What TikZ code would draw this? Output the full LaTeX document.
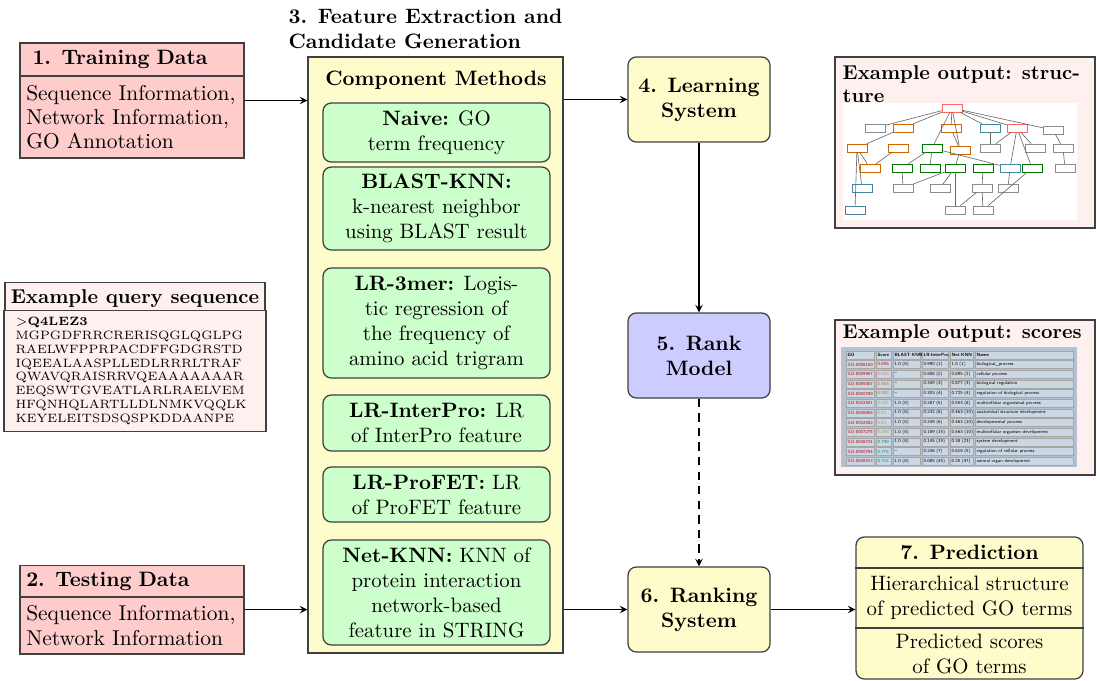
\documentclass[tikz,border=0pt]{standalone}
\usepackage{xcolor}
\usetikzlibrary{positioning, arrows.meta, fit, calc}
\definecolor{tabbg}{RGB}{178,194,210}
\definecolor{tabcell}{RGB}{204,215,228}

\begin{document}
\begin{tikzpicture}[
            x=0.48pt, y=-0.48pt,
            >=stealth,
            line width=0.6pt,
            datahead/.style={draw=black!75, fill=red!20, font=\bfseries, align=left, inner xsep=3pt, text width=101.5pt, minimum height=15.8pt},
            databody/.style={draw=black!75, fill=red!20, font=\fontsize{10.3}{11.6}\selectfont, align=left, inner xsep=3pt, inner ysep=1pt, text width=101.5pt},
            examplebox/.style={draw=black!75, fill=red!6, minimum width=124.8pt},
            method/.style={draw=black!75, fill=green!20, rounded corners=4pt, minimum width=108.96pt, align=center},
            sysbox/.style={draw=black!75, fill=yellow!20, rounded corners=4pt, minimum width=68.16pt, minimum height=40.8pt, font=\bfseries, align=center},
            gobox/.style={draw=#1, fill=white, line width=0.3pt, minimum width=9.6pt, minimum height=3.8pt, inner sep=0pt},
            goedge/.style={draw=black!60, line width=0.3pt},
            tabtext/.style={font=\fontsize{2.2}{2.6}\selectfont\sffamily, anchor=west, inner sep=0pt},
        ]
            \useasboundingbox (0,0) rectangle (1097,680);

            % Draw the data boxes
            \node[datahead, minimum height=15.84pt] (train-head) at (132,59.5) {\hspace{3pt}1. Training Data};
            \node[databody, minimum height=39.36pt] (train-body) at (132,117) {Sequence Information,\\Network Information,\\GO Annotation};
            \node[fit=(train-head)(train-body), inner sep=0pt] (train) {};

            \node[datahead, minimum height=14.88pt] (test-head) at (132,581.5) {2. Testing Data};
            \node[databody, minimum height=27.36pt] (test-body) at (132,625.5) {Sequence Information,\\Network Information};
            \node[fit=(test-head)(test-body), inner sep=0pt] (test) {};

            % Draw the query example
            \node[examplebox, minimum height=14.88pt, inner xsep=1pt, font=\fontsize{9.6}{11}\selectfont\bfseries] (query-head) at (135,298.5) {Example query sequence};
            \node[examplebox, minimum height=54.72pt, align=left, inner xsep=5.5pt, text width=114.7pt,
                  font=\fontsize{5.8}{6.6}\selectfont] (query) at (135,371)
                {$>$\textbf{Q4LEZ3}\\MGPGDFRRCRERISQGLQGLPG\\RAELWFPPRPACDFFGDGRSTD\\IQEEALAASPLLEDLRRRLTRAF\\QWAVQRAISRRVQEAAAAAAAR\\EEQSWTGVEATLARLRAELVEM\\HFQNHQLARTLLDLNMKVQQLK\\KEYELEITSDSQSPKDDAANPE};

            % Draw the component methods
            \node[anchor=north west, inner sep=0pt, align=left, font=\bfseries] (feat-title) at (288,8) {3. Feature Extraction and\\Candidate Generation};
            \node[draw=black!75, fill=yellow!20, minimum width=122.4pt, minimum height=286.08pt] (methods) at (435.5,355) {};
            \node[font=\bfseries] (comp-title) at (436,80) {Component Methods};

            \node[method, minimum height=28.32pt] (naive) at (436.5,132.5) {\textbf{Naive:} GO\\term frequency};
            \node[method, minimum height=39.84pt] (blast) at (436.5,208.5) {\textbf{BLAST-KNN:}\\k-nearest neighbor\\using BLAST result};
            \node[method, minimum height=52.8pt] (lr3mer) at (436.5,323) {\textbf{LR-3mer:} Logis-\\tic regression of\\the frequency of\\amino acid trigram};
            \node[method, minimum height=26.88pt] (interpro) at (436.5,423) {\textbf{LR-InterPro:} LR\\of InterPro feature};
            \node[method, minimum height=26.4pt] (profet) at (436.5,494.5) {\textbf{LR-ProFET:} LR\\of ProFET feature};
            \node[method, minimum height=50.4pt] (netknn) at (436.5,592.5) {\textbf{Net-KNN:} KNN of\\protein interaction\\network-based\\feature in STRING};

            % Draw the system nodes
            \node[sysbox] (learn) at (699,99.5) {4. Learning\\System};
            \node[sysbox, fill=blue!20] (rank) at (699,355.5) {5. Rank\\Model};
            \node[sysbox] (ranking) at (699,609.5) {6. Ranking\\System};

            % Draw the prediction node
            \node[draw=black!75, fill=yellow!20, rounded corners=4pt, minimum width=108.96pt, minimum height=68.16pt] (pred) at (969.5,608) {};
            \coordinate (pred-sep1) at (969.5,568);
            \coordinate (pred-sep2) at (969.5,628);
            \draw[black!75] (pred-sep1 -| pred.west) -- (pred-sep1 -| pred.east);
            \draw[black!75] (pred-sep2 -| pred.west) -- (pred-sep2 -| pred.east);
            \node[font=\bfseries] (pred-head) at (969.5,552.5) {7. Prediction};
            \node[align=center] (pred-struct) at (969.5,598) {Hierarchical structure\\of predicted GO terms};
            \node[align=center] (pred-scores) at (969.5,654) {Predicted scores\\of GO terms};

            % Draw the example outputs
            \node[examplebox, minimum height=82.08pt] (out-struct) at (965,142.5) {};
            \node[anchor=north west, inner sep=0pt, align=left, font=\fontsize{9.6}{11}\selectfont\bfseries] (out-struct-title) at (842,65) {Example output: struc-\\ture};
            \fill[white] (843,103) rectangle (1077,220);
            \foreach \name/\x/\y/\c in {r/952/108/red!60, a1/875/128/black!45, a2/903/128/orange!80!black, a3/951/128/orange!80!black,
                    a4/990/128/cyan!60!black, a5/1017/128/red!60, a6/1053/130/black!45, b1/857/148/orange!80!black,
                    b2/898/148/orange!80!black, b3/932/148/green!45!black, b4/960/150/orange!80!black, b5/990/148/black!45,
                    b6/1035/148/black!45, b7/1063/148/black!45, c1/870/168/orange!80!black, c2/902/168/green!45!black,
                    c3/930/168/green!45!black, c4/955/168/green!45!black, c5/983/168/green!45!black,
                    c6/1010/168/cyan!60!black, c7/1032/168/green!45!black, c8/1065/168/black!45,
                    d1/862/188/cyan!60!black, d2/903/188/black!45, d3/940/188/black!45, d4/982/188/black!45,
                    d5/1008/188/black!45, e1/855/210/cyan!60!black, e2/955/210/black!45, e3/983/210/black!45}
                \node[gobox=\c] (s-\name) at (\x,\y) {};
            \foreach \a/\b in {r/a1, r/a2, r/a3, r/a4, r/a5, r/a6, r/b3, r/b4, a2/b1, a3/b4, a4/b5, a5/b5,
                    a5/b6, a5/c6, a5/c7, a6/b7, b1/c1, b1/d1, b1/e1, b2/c1, b3/c2, b3/c3, b3/c6, b4/c4,
                    c4/d2, c4/d3, c4/e2, c5/d4, c6/d5, c7/e3, b7/c8, d4/e2, d4/e3, c2/d2}
                \draw[goedge] (s-\a) -- (s-\b);

            \node[examplebox, minimum height=74.4pt] (out-scores) at (965,397.5) {};
            \node[anchor=west, inner sep=0pt, font=\fontsize{9.6}{11}\selectfont\bfseries] (out-scores-title) at (842,333) {Example output: scores};
            \fill[tabbg] (841,347) rectangle (1077,467);
            \foreach \r in {0,...,11}
                \foreach \cl/\cr in {845/875, 875/892, 892/921, 921/949, 949/974, 974/1074}
                    \draw[fill=tabcell, draw=black!35, line width=0.2pt] ({\cl+0.8},{350+9.67*\r+0.8}) rectangle ({\cr-0.8},{350+9.67*\r+8.87});
            \foreach \cl/\txt [count=\k] in {847/GO, 877/Score, 894/BLAST-KNN, 923/LR-InterPro, 951/Net-KNN, 976/Name}
                \node[tabtext] (head-\k) at (\cl,354.8) {\textbf{\txt}};
            \foreach \i/\go/\sc/\scol/\bk/\lr/\nk/\nm in {
                    1/GO:0008150/0.856/red!80!black/1.0 (8)/0.990 (1)/1.0 (1)/biological\_process,
                    2/GO:0009987/0.853/red!60/--/0.808 (2)/0.895 (2)/cellular process,
                    3/GO:0065007/0.853/orange!80!black/--/0.349 (3)/0.877 (3)/biological regulation,
                    4/GO:0050789/0.852/orange!80!black/--/0.303 (4)/0.725 (4)/regulation of biological process,
                    5/GO:0032501/0.847/yellow!60!black/1.0 (8)/0.287 (5)/0.553 (8)/multicellular organismal process,
                    6/GO:0048856/0.83/yellow!60!black/1.0 (8)/0.232 (6)/0.463 (10)/anatomical structure development,
                    7/GO:0032502/0.83/yellow!60!black/1.0 (8)/0.249 (6)/0.463 (10)/developmental process,
                    8/GO:0007275/0.808/yellow!60!black/1.0 (8)/0.189 (15)/0.463 (10)/multicellular organism development,
                    9/GO:0048731/0.799/teal/1.0 (8)/0.145 (19)/0.38 (23)/system development,
                    10/GO:0050794/0.775/teal/--/0.246 (7)/0.618 (5)/regulation of cellular process,
                    11/GO:0048513/0.715/teal/1.0 (8)/0.085 (45)/0.25 (47)/animal organ development}
            {
                \node[tabtext, text=red!75!black] (go-\i) at (847,{354.8+9.67*\i}) {\go};
                \node[tabtext, text=\scol] (sc-\i) at (877,{354.8+9.67*\i}) {\sc};
                \node[tabtext] (bk-\i) at (894,{354.8+9.67*\i}) {\bk};
                \node[tabtext] (lr-\i) at (923,{354.8+9.67*\i}) {\lr};
                \node[tabtext] (nk-\i) at (951,{354.8+9.67*\i}) {\nk};
                \node[tabtext] (nm-\i) at (976,{354.8+9.67*\i}) {\nm};
            }

            % Connect the boxes
            \draw[->] (train) -- (train -| methods.west);
            \draw[->] (test) -- (test -| methods.west);
            \draw[->] (methods.east |- learn) -- (learn);
            \draw[->] (methods.east |- ranking) -- (ranking);
            \draw[->] (learn) -- (rank);
            \draw[->, dash pattern=on 4pt off 3pt] (rank) -- (ranking);
            \draw[->] (ranking) -- (ranking -| pred.west);
        \end{tikzpicture}
\end{document}
